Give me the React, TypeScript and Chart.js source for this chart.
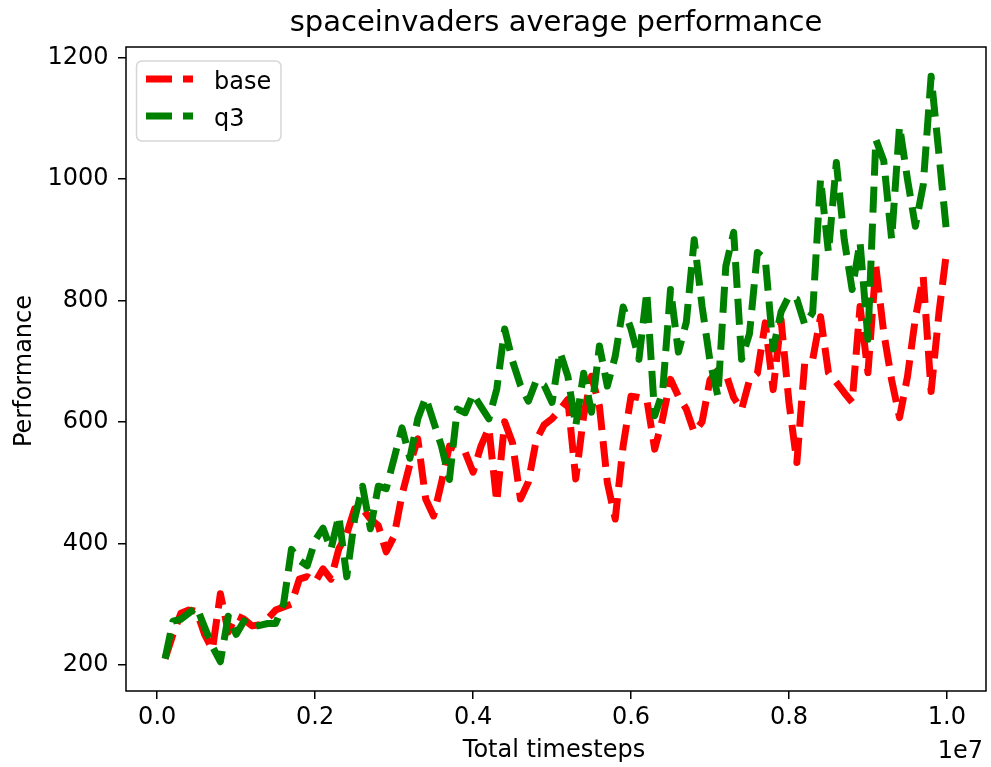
import { useEffect, useRef } from 'react';
import { Chart, registerables } from 'chart.js';

Chart.register(...registerables);

const TITLE = 'spaceinvaders average performance';
const X_LABEL = 'Total timesteps';
const Y_LABEL = 'Performance';
const X_OFFSET_TEXT = '1e7';
const SERIES_NAMES = ['base', 'q3'];
const SERIES_COLORS = ['#ff0000', '#008000'];

const TIMESTEPS = [
  100000, 200000, 300000, 400000, 500000, 600000, 700000, 800000, 900000, 1000000,
  1100000, 1200000, 1300000, 1400000, 1500000, 1600000, 1700000, 1800000, 1900000, 2000000,
  2100000, 2200000, 2300000, 2400000, 2500000, 2600000, 2700000, 2800000, 2900000, 3000000,
  3100000, 3200000, 3300000, 3400000, 3500000, 3600000, 3700000, 3800000, 3900000, 4000000,
  4100000, 4200000, 4300000, 4400000, 4500000, 4600000, 4700000, 4800000, 4900000, 5000000,
  5100000, 5200000, 5300000, 5400000, 5500000, 5600000, 5700000, 5800000, 5900000, 6000000,
  6100000, 6200000, 6300000, 6400000, 6500000, 6600000, 6700000, 6800000, 6900000, 7000000,
  7100000, 7200000, 7300000, 7400000, 7500000, 7600000, 7700000, 7800000, 7900000, 8000000,
  8100000, 8200000, 8300000, 8400000, 8500000, 8600000, 8700000, 8800000, 8900000, 9000000,
  9100000, 9200000, 9300000, 9400000, 9500000, 9600000, 9700000, 9800000, 9900000, 10000000,
];

const BASE = [
  210, 250, 285, 290, 288, 250, 225, 317, 254, 281,
  275, 264, 266, 276, 290, 295, 300, 341, 345, 336,
  358, 341, 391, 415, 457, 457, 440, 429, 386, 412,
  480, 530, 572, 473, 445, 500, 560, 555, 550, 517,
  560, 590, 468, 600, 565, 473, 501, 570, 595, 605,
  620, 637, 506, 610, 675, 626, 500, 440, 560, 642,
  640, 637, 555, 605, 670, 642, 621, 583, 600, 669,
  685, 680, 640, 620, 669, 680, 763, 653, 768, 632,
  533, 698, 702, 773, 681, 665, 648, 632, 790, 681,
  856, 747, 669, 607, 674, 770, 839, 650, 780, 885,
];

const Q3 = [
  210, 272, 275, 285, 295, 262, 230, 205, 280, 250,
  272, 262, 265, 268, 268, 300, 390, 372, 363, 405,
  425, 390, 445, 345, 440, 494, 424, 494, 490, 540,
  590, 540, 605, 640, 600, 560, 505, 621, 615, 646,
  625, 605, 654, 753, 700, 660, 634, 668, 660, 632,
  715, 675, 593, 680, 616, 725, 659, 708, 789, 753,
  703, 814, 610, 649, 818, 715, 764, 900, 790, 700,
  642, 856, 912, 703, 745, 879, 868, 720, 781, 807,
  802, 760, 780, 1000, 879, 1027, 900, 818, 896, 736,
  1065, 1030, 901, 1087, 1000, 922, 990, 1169, 1040, 906,
];

const X_TICKS = [0, 2000000, 4000000, 6000000, 8000000, 10000000];
const Y_TICKS = [200, 400, 600, 800, 1000, 1200];

const FONT = '"DejaVu Sans", sans-serif';
const TICK_SIZE = 24;
const TITLE_SIZE = 29;
const DASH = [26, 11];
const LINE_W = 7;

function padRange(vals: number[]) {
  const lo = Math.min(...vals);
  const hi = Math.max(...vals);
  const m = (hi - lo) * 0.05;
  return [lo - m, hi + m];
}

const overlay = {
  id: 'overlay',
  afterDraw(chart: any) {
    const { ctx, chartArea: a } = chart;
    ctx.save();
    // frame
    ctx.strokeStyle = '#000';
    ctx.lineWidth = 1.5;
    ctx.setLineDash([]);
    ctx.strokeRect(a.left, a.top, a.right - a.left, a.bottom - a.top);

    ctx.fillStyle = '#000';
    // title
    ctx.font = `${TITLE_SIZE}px ${FONT}`;
    ctx.textAlign = 'center';
    ctx.textBaseline = 'alphabetic';
    ctx.fillText(TITLE, (a.left + a.right) / 2, 31);
    // x label
    ctx.font = `${TICK_SIZE}px ${FONT}`;
    ctx.fillText(X_LABEL, (a.left + a.right) / 2 - 2, 757);
    // offset text
    ctx.textAlign = 'right';
    ctx.fillText(X_OFFSET_TEXT, a.right - 3, 758);
    // y label
    ctx.save();
    ctx.translate(30.5, (a.top + a.bottom) / 2 + 2);
    ctx.rotate(-Math.PI / 2);
    ctx.textAlign = 'center';
    ctx.fillText(Y_LABEL, 0, 0);
    ctx.restore();

    // legend
    const lx = 136.5, ly = 61, lw = 144.5, lh = 80, r = 6;
    ctx.beginPath();
    ctx.moveTo(lx + r, ly);
    ctx.lineTo(lx + lw - r, ly);
    ctx.quadraticCurveTo(lx + lw, ly, lx + lw, ly + r);
    ctx.lineTo(lx + lw, ly + lh - r);
    ctx.quadraticCurveTo(lx + lw, ly + lh, lx + lw - r, ly + lh);
    ctx.lineTo(lx + r, ly + lh);
    ctx.quadraticCurveTo(lx, ly + lh, lx, ly + lh - r);
    ctx.lineTo(lx, ly + r);
    ctx.quadraticCurveTo(lx, ly, lx + r, ly);
    ctx.closePath();
    ctx.fillStyle = 'rgba(255,255,255,0.8)';
    ctx.fill();
    ctx.strokeStyle = '#d6d6d6';
    ctx.lineWidth = 1.5;
    ctx.stroke();

    const rows = [79, 116];
    SERIES_NAMES.forEach((name, i) => {
      ctx.beginPath();
      ctx.setLineDash(DASH);
      ctx.lineCap = 'butt';
      ctx.strokeStyle = SERIES_COLORS[i];
      ctx.lineWidth = LINE_W;
      ctx.moveTo(146, rows[i]);
      ctx.lineTo(193, rows[i]);
      ctx.stroke();
      ctx.setLineDash([]);
      ctx.fillStyle = '#000';
      ctx.font = `${TICK_SIZE}px ${FONT}`;
      ctx.textAlign = 'left';
      ctx.textBaseline = 'alphabetic';
      ctx.fillText(name, 214, rows[i] + 10);
    });
    ctx.restore();
  },
};

export default function App() {
  const ref = useRef<HTMLCanvasElement>(null);
  useEffect(() => {
    const [xMin, xMax] = padRange(TIMESTEPS);
    const [yMin, yMax] = padRange([...BASE, ...Q3]);
    const series = [BASE, Q3];
    const chart = new Chart(ref.current as HTMLCanvasElement, {
      type: 'line',
      data: {
        datasets: series.map((vals, i) => ({
          label: SERIES_NAMES[i],
          data: TIMESTEPS.map((x, j) => ({ x, y: vals[j] })),
          borderColor: SERIES_COLORS[i],
          backgroundColor: SERIES_COLORS[i],
          borderWidth: LINE_W,
          borderDash: DASH,
          borderCapStyle: 'butt',
          borderJoinStyle: 'round',
          pointRadius: 0,
          tension: 0,
          fill: false,
          order: 2 - i,
        })),
      },
      options: {
        animation: false,
        responsive: false,
        devicePixelRatio: 1,
        events: [],
        layout: { padding: { top: 47, right: 5, left: 0, bottom: 0 } },
        plugins: {
          legend: { display: false },
          title: { display: false },
          tooltip: { enabled: false },
        },
        scales: {
          x: {
            type: 'linear',
            min: xMin,
            max: xMax,
            afterFit: (s: any) => {
              s.height = 76;
            },
            afterBuildTicks: (s: any) => {
              s.ticks = X_TICKS.map((v) => ({ value: v }));
            },
            ticks: {
              font: { family: FONT, size: TICK_SIZE },
              color: '#000',
              padding: 4,
              maxRotation: 0,
              autoSkip: false,
              callback: (v: any) => (Number(v) / 1e7).toFixed(1),
            },
            grid: {
              drawOnChartArea: false,
              drawTicks: true,
              tickLength: 8,
              color: '#000',
              lineWidth: 1.5,
            },
            border: { display: false },
          },
          y: {
            type: 'linear',
            min: yMin,
            max: yMax,
            afterFit: (s: any) => {
              s.width = 126;
            },
            afterBuildTicks: (s: any) => {
              s.ticks = Y_TICKS.map((v) => ({ value: v }));
            },
            ticks: {
              font: { family: FONT, size: TICK_SIZE },
              color: '#000',
              padding: 9.5,
              autoSkip: false,
              callback: (v: any) => String(v),
            },
            grid: {
              drawOnChartArea: false,
              drawTicks: true,
              tickLength: 8,
              color: '#000',
              lineWidth: 1.5,
            },
            border: { display: false },
          },
        },
      },
      plugins: [overlay],
    } as any);
    return () => chart.destroy();
  }, []);
  return (
    <div style={{ position: 'fixed', left: 0, top: 0, width: 991, height: 767, background: '#fff' }}>
      <canvas ref={ref} width={991} height={767} style={{ display: 'block', width: 991, height: 767 }} />
    </div>
  );
}
